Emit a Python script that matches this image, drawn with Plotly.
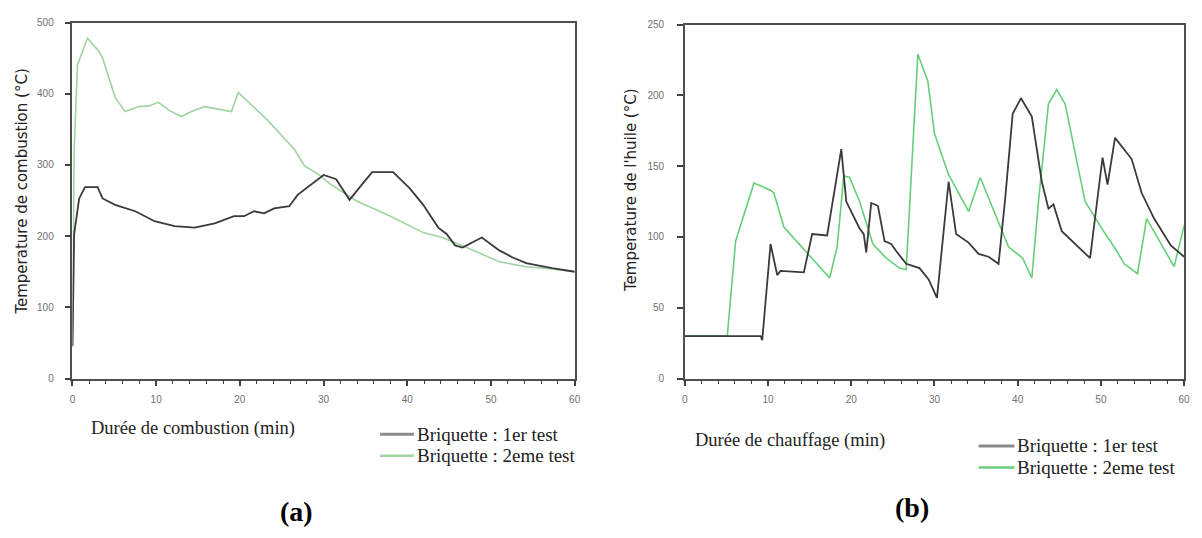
import plotly.graph_objects as go

# (a) combustion temperature vs time
t_a_test1 = [0, 0.2, 0.8, 1.5, 3.0, 3.6, 5.1, 7.5, 9.8, 12.2, 14.6, 17.0, 19.3, 20.5, 21.7, 22.9,
             24.1, 25.9, 26.9, 28.5, 30.0, 31.5, 33.1, 34.4, 35.8, 38.3, 40.3, 41.9, 43.7, 44.7,
             45.7, 46.6, 48.9, 51.0, 52.6, 54.2, 57.3, 60]
T_a_test1 = [45, 203, 253, 269, 269, 253, 244, 235, 221, 214, 212, 218, 228, 228, 235, 232,
             239, 242, 258, 273, 286, 280, 251, 270, 290, 290, 267, 244, 212, 203,
             187, 184, 198, 180, 170, 162, 155, 150]

t_a_test2 = [0, 0.2, 0.6, 1.8, 3.2, 3.6, 5.1, 6.3, 7.9, 9.1, 10.3, 11.5, 13.0, 14.2, 15.8, 17.4,
             19.0, 19.8, 23.3, 26.5, 27.7, 29.6, 30.8, 34.0, 38.0, 41.9, 44.2, 47.1, 51.0, 54.2,
             57.3, 60]
T_a_test2 = [47, 321, 441, 478, 459, 450, 395, 375, 382, 383, 388, 377, 368, 375, 382, 379,
             375, 402, 363, 322, 299, 285, 273, 249, 228, 205, 198, 184, 164, 157,
             154, 150]

# (b) oil temperature vs heating time
t_b_test1 = [0, 9.1, 9.3, 10.3, 11.1, 11.5, 14.3, 15.3, 17.1, 18.8, 19.4, 21.0, 21.5, 21.8, 22.4,
             23.2, 24.0, 24.8, 25.4, 26.6, 28.2, 29.3, 30.3, 31.7, 32.6, 34.1, 35.3, 36.5, 37.7,
             38.5, 39.4, 40.4, 41.7, 42.9, 43.7, 44.3, 45.3, 48.7, 50.2, 50.8, 51.7, 53.7, 54.9,
             56.4, 58.4, 60]
T_b_test1 = [30, 30, 27, 95, 73, 76, 75, 102, 101, 162, 125, 106, 102, 89, 124,
             122, 97, 95, 90, 81, 78, 70, 57, 139, 102, 96, 88, 86, 81,
             127, 187, 198, 185, 139, 120, 123, 104, 85, 156, 137, 170, 155, 131,
             113, 94, 86]

t_b_test2 = [0, 5.1, 6.1, 8.3, 10.3, 10.7, 11.9, 17.4, 18.3, 19.1, 19.8, 21.0, 22.6, 24.2, 25.8,
             26.6, 28.0, 29.2, 30.0, 31.7, 34.1, 35.5, 37.3, 38.9, 40.6, 41.7, 42.5, 43.7, 44.7,
             45.7, 48.1, 50.1, 51.7, 52.8, 54.4, 55.5, 58.8, 60]
T_b_test2 = [30, 30, 97, 138, 133, 131, 107, 71, 93, 143, 142, 125, 95, 85, 78,
             77, 229, 210, 173, 144, 118, 142, 116, 93, 85, 71, 125, 194, 204,
             194, 125, 106, 92, 81, 74, 113, 79, 108]

series_names = ["Briquette : 1er test", "Briquette : 2eme test"]

DARK = "#3a3a3a"
GREEN_A = "#9fd3a0"
GREEN_B = "#66cf78"

fig = go.Figure()
fig.add_trace(go.Scatter(x=t_a_test2, y=T_a_test2, mode="lines", name=series_names[1],
                         line=dict(color=GREEN_A, width=1.6), xaxis="x", yaxis="y", showlegend=False))
fig.add_trace(go.Scatter(x=t_a_test1, y=T_a_test1, mode="lines", name=series_names[0],
                         line=dict(color=DARK, width=1.8), xaxis="x", yaxis="y", showlegend=False))
fig.add_trace(go.Scatter(x=t_b_test2, y=T_b_test2, mode="lines", name=series_names[1],
                         line=dict(color=GREEN_B, width=1.6), xaxis="x2", yaxis="y2", showlegend=False))
fig.add_trace(go.Scatter(x=t_b_test1, y=T_b_test1, mode="lines", name=series_names[0],
                         line=dict(color=DARK, width=1.8), xaxis="x2", yaxis="y2", showlegend=False))

W, H = 1202, 538


def px(x):
    return x / W


def py(y):
    return 1 - y / H


tick_font = dict(family="Liberation Sans, Arial", size=10, color="#707070")
axis_common = dict(showline=True, linecolor="#505050", linewidth=1.5, mirror=True,
                   showgrid=False, zeroline=False, ticks="outside", ticklen=6, tickwidth=1.5,
                   tickcolor="#404040", tickfont=tick_font)

xaxis_common = dict(axis_common, range=[0, 60], tickmode="linear", tick0=0, dtick=10,
                    minor=dict(tickmode="linear", tick0=0, dtick=2, ticks="outside", ticklen=4,
                               tickwidth=1.3, tickcolor="#404040", showgrid=False),
                    ticklabelstandoff=5)

fig.update_layout(
    width=W, height=H,
    margin=dict(l=0, r=0, t=0, b=0),
    paper_bgcolor="white", plot_bgcolor="white",
    xaxis=dict(xaxis_common, domain=[px(70), px(576)], anchor="y"),
    yaxis=dict(axis_common, domain=[py(381), py(17)], range=[0, 500], dtick=100, anchor="x",
               ticklabelstandoff=9),
    xaxis2=dict(xaxis_common, domain=[px(687), px(1190)], anchor="y2"),
    yaxis2=dict(axis_common, domain=[py(381), py(19)], range=[0, 250], dtick=50, anchor="x2",
                ticklabelstandoff=11),
)

title_sans = dict(family="DejaVu Sans", size=15, color="#222")
title_serif = dict(family="Liberation Serif, Times New Roman", size=18.5, color="#222")
legend_font = dict(family="Liberation Serif, Times New Roman", size=19, color="#222")
panel_font = dict(family="Liberation Serif, Times New Roman", size=28, color="black")

annotations = [
    dict(text="Temperature de combustion (°C)", x=px(19), y=py(190), textangle=-90, font=title_sans),
    dict(text="Temperature de l'huile (°C)", x=px(633), y=py(188), textangle=-90, font=title_sans),
    dict(text="Durée de combustion (min)", x=px(87), y=py(432), xanchor="left", font=title_serif),
    dict(text="Durée de chauffage (min)", x=px(695), y=py(444), xanchor="left", font=title_serif),
    dict(text="<b>(a)</b>", x=px(296), y=py(517), font=panel_font),
    dict(text="<b>(b)</b>", x=px(916), y=py(513), font=panel_font),
]

# hand-drawn legends under each panel
legend_rows = [
    # (sample x0, sample x1, text x, row y, colour, width, label)
    (380, 414, 415, 438, "#8a8a8a", 3, series_names[0]),
    (380, 414, 415, 460, GREEN_A, 2.5, series_names[1]),
    (983, 1019, 1020, 450, "#8a8a8a", 3, series_names[0]),
    (983, 1019, 1020, 472, GREEN_B, 2.5, series_names[1]),
]
shapes = []
for x0, x1, xt, yr, col, w, label in legend_rows:
    shapes.append(dict(type="line", xref="paper", yref="paper", x0=px(x0), x1=px(x1),
                       y0=py(yr), y1=py(yr), line=dict(color=col, width=w)))
    annotations.append(dict(text=label, x=px(xt), y=py(yr), xanchor="left", font=legend_font))

for a in annotations:
    a.setdefault("xref", "paper")
    a.setdefault("yref", "paper")
    a.setdefault("showarrow", False)
    a.setdefault("yanchor", "middle")
    a.setdefault("xanchor", "center")

fig.update_layout(annotations=annotations, shapes=shapes)

fig.write_html("out.html")
